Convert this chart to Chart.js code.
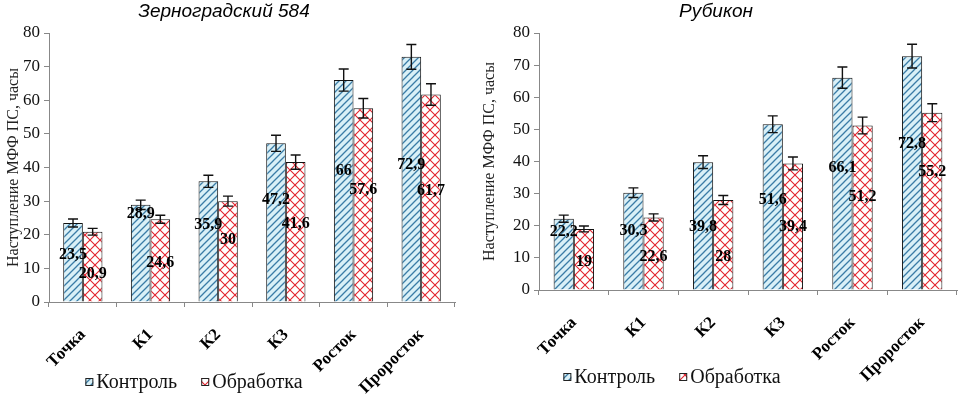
<!DOCTYPE html>
<html>
<head>
<meta charset="utf-8">
<script src="https://cdn.jsdelivr.net/npm/chart.js@4"></script>
<style>
  body { margin: 0; background: #fff; }
  .wrap { position: absolute; top: 0; height: 395px; }
</style>
</head>
<body>
<div class="wrap" style="left:0;width:480px"><canvas id="zernogradChart"></canvas></div>
<div class="wrap" style="left:480px;width:479px"><canvas id="rubikonChart"></canvas></div>
<script>
// ## DATA ##
const categories = ["Точка", "К1", "К2", "К3", "Росток", "Проросток"];
const seriesNames = ["Контроль", "Обработка"];

const zernogradControl = [23.5, 28.9, 35.9, 47.2, 66, 72.9];
const zernogradTreated = [20.9, 24.6, 30, 41.6, 57.6, 61.7];
const zernogradControlErr = [1.2, 1.4, 1.8, 2.4, 3.3, 3.7];
const zernogradTreatedErr = [1.0, 1.2, 1.5, 2.1, 2.9, 3.2];

const rubikonControl = [22.2, 30.3, 39.8, 51.6, 66.1, 72.8];
const rubikonTreated = [19, 22.6, 28, 39.4, 51.2, 55.2];
const rubikonControlErr = [1.1, 1.5, 2.0, 2.6, 3.3, 3.7];
const rubikonTreatedErr = [0.9, 1.1, 1.4, 2.0, 2.6, 2.8];

const yMin = 0;
const yMax = 80;
const yStep = 10;

const serif = "Liberation Serif, DejaVu Serif, serif";
const sans = "Liberation Sans, Arial, sans-serif";

// ## PATTERNS ##
function stripePattern() {
  const c = document.createElement("canvas");
  c.width = 7;
  c.height = 7;
  const g = c.getContext("2d");
  g.fillStyle = "#d9f0f7";
  g.fillRect(0, 0, 7, 7);
  g.strokeStyle = "#3a7ca6";
  g.lineWidth = 1.3;
  g.beginPath();
  g.moveTo(-1, 8); g.lineTo(8, -1);
  g.moveTo(-1, 1); g.lineTo(1, -1);
  g.moveTo(6, 8); g.lineTo(8, 6);
  g.stroke();
  return g.createPattern(c, "repeat");
}

function crossPattern() {
  const c = document.createElement("canvas");
  c.width = 10;
  c.height = 10;
  const g = c.getContext("2d");
  g.fillStyle = "#ffffff";
  g.fillRect(0, 0, 10, 10);
  g.strokeStyle = "#e2242e";
  g.lineWidth = 1.1;
  g.beginPath();
  g.moveTo(0, 0); g.lineTo(10, 10);
  g.moveTo(0, 10); g.lineTo(10, 0);
  g.stroke();
  return g.createPattern(c, "repeat");
}

// ## EXTRA DRAWING: title, error bars, labels, legend ##
const extrasPlugin = {
  id: "extras",
  afterDatasetsDraw(chart, args, opts) {
    const ctx = chart.ctx;
    const yScale = chart.scales.y;
    ctx.save();

    // error bars
    ctx.strokeStyle = "#111";
    ctx.lineWidth = 1.4;
    chart.data.datasets.forEach((ds, i) => {
      const meta = chart.getDatasetMeta(i);
      meta.data.forEach((bar, j) => {
        const v = ds.data[j];
        const e = opts.errors[i][j];
        const yt = yScale.getPixelForValue(v + e);
        const yb = yScale.getPixelForValue(v - e);
        ctx.beginPath();
        ctx.moveTo(bar.x, yt); ctx.lineTo(bar.x, yb);
        ctx.moveTo(bar.x - 5, yt); ctx.lineTo(bar.x + 5, yt);
        ctx.moveTo(bar.x - 5, yb); ctx.lineTo(bar.x + 5, yb);
        ctx.stroke();
      });
    });

    // value labels
    ctx.fillStyle = "#000";
    ctx.font = "bold 16px " + serif;
    ctx.textAlign = "center";
    ctx.textBaseline = "middle";
    chart.data.datasets.forEach((ds, i) => {
      const meta = chart.getDatasetMeta(i);
      meta.data.forEach((bar, j) => {
        const y = yScale.getPixelForValue(opts.labelAt[i][j]);
        ctx.fillText(String(ds.data[j]).replace(".", ","), bar.x, y);
      });
    });

    // chart title
    ctx.font = "italic 19px " + sans;
    ctx.fillText(opts.title, opts.titleX, 12);

    // legend
    ctx.font = "20px " + serif;
    const box = 8, gap = 3, itemGap = 24;
    const widths = chart.data.datasets.map((ds) => ctx.measureText(ds.label).width);
    const total = widths.reduce((a, w) => a + box + gap + w, 0) + itemGap;
    let x = opts.legendX - total / 2;
    ctx.textAlign = "left";
    chart.data.datasets.forEach((ds, i) => {
      ctx.fillStyle = ds.backgroundColor;
      ctx.fillRect(x, opts.legendY - box / 2, box, box);
      ctx.strokeStyle = "#222";
      ctx.lineWidth = 1;
      ctx.strokeRect(x + 0.5, opts.legendY - box / 2 + 0.5, box - 1, box - 1);
      ctx.fillStyle = "#111";
      ctx.fillText(ds.label, x + box + gap, opts.legendY + 1);
      x += box + gap + widths[i] + itemGap;
    });

    ctx.restore();
  },
};

function createChart(id, cfg) {
  const ctx = document.getElementById(id).getContext("2d");
  return new Chart(ctx, {
    type: "bar",
    data: {
      labels: categories,
      datasets: [
        {
          label: seriesNames[0],
          data: cfg.control,
          backgroundColor: stripePattern(),
          borderColor: "#111",
          borderWidth: 1,
        },
        {
          label: seriesNames[1],
          data: cfg.treated,
          backgroundColor: crossPattern(),
          borderColor: "#111",
          borderWidth: 1,
        },
      ],
    },
    plugins: [extrasPlugin],
    options: {
      responsive: true,
      maintainAspectRatio: false,
      animation: false,
      layout: { padding: { top: 33, right: cfg.padRight, left: 0, bottom: 0 } },
      datasets: { bar: { barPercentage: 1, categoryPercentage: 0.58 } },
      scales: {
        x: {
          afterFit: (scale) => { scale.height = cfg.xHeight; },
          grid: {
            offset: true,
            drawOnChartArea: false,
            color: "#888",
            tickLength: 5,
          },
          border: { color: "#888" },
          ticks: {
            minRotation: 45,
            maxRotation: 45,
            padding: 18,
            color: "#000",
            font: { family: serif, size: 17, weight: "bold" },
          },
        },
        y: {
          min: yMin,
          max: yMax,
          afterFit: (scale) => { scale.width = cfg.yWidth; },
          title: {
            display: true,
            text: "Наступление МФФ ПС, часы",
            color: "#222",
            padding: { top: cfg.yTitlePad, bottom: 0 },
            font: { family: serif, size: 16 },
          },
          grid: {
            drawOnChartArea: false,
            color: "#888",
            tickLength: 5,
          },
          border: { color: "#888" },
          ticks: {
            stepSize: yStep,
            padding: 4,
            color: "#111",
            font: { family: serif, size: 17 },
          },
        },
      },
      plugins: {
        legend: { display: false },
        tooltip: { enabled: false },
        extras: {
          title: cfg.title,
          titleX: cfg.titleX,
          legendX: cfg.legendX,
          legendY: cfg.legendY,
          errors: cfg.errors,
          labelAt: cfg.labelAt,
        },
      },
    },
  });
}

createChart("zernogradChart", {
  title: "Зерноградский 584",
  control: zernogradControl,
  treated: zernogradTreated,
  errors: [zernogradControlErr, zernogradTreatedErr],
  labelAt: [
    [14, 26.2, 22.9, 30.3, 39, 40.7],
    [8.3, 11.6, 18.4, 23.2, 33.3, 33.1],
  ],
  titleX: 224,
  legendX: 194,
  legendY: 382,
  padRight: 25,
  xHeight: 93,
  yWidth: 49,
  yTitlePad: 4,
});

createChart("rubikonChart", {
  title: "Рубикон",
  control: rubikonControl,
  treated: rubikonTreated,
  errors: [rubikonControlErr, rubikonTreatedErr],
  labelAt: [
    [18, 18.4, 19.6, 28, 38, 45.4],
    [8.7, 10.3, 10.3, 19.6, 29, 36.8],
  ],
  titleX: 236,
  legendX: 192,
  legendY: 377,
  padRight: 2,
  xHeight: 105,
  yWidth: 59,
  yTitlePad: 0,
});
</script>
</body>
</html>
